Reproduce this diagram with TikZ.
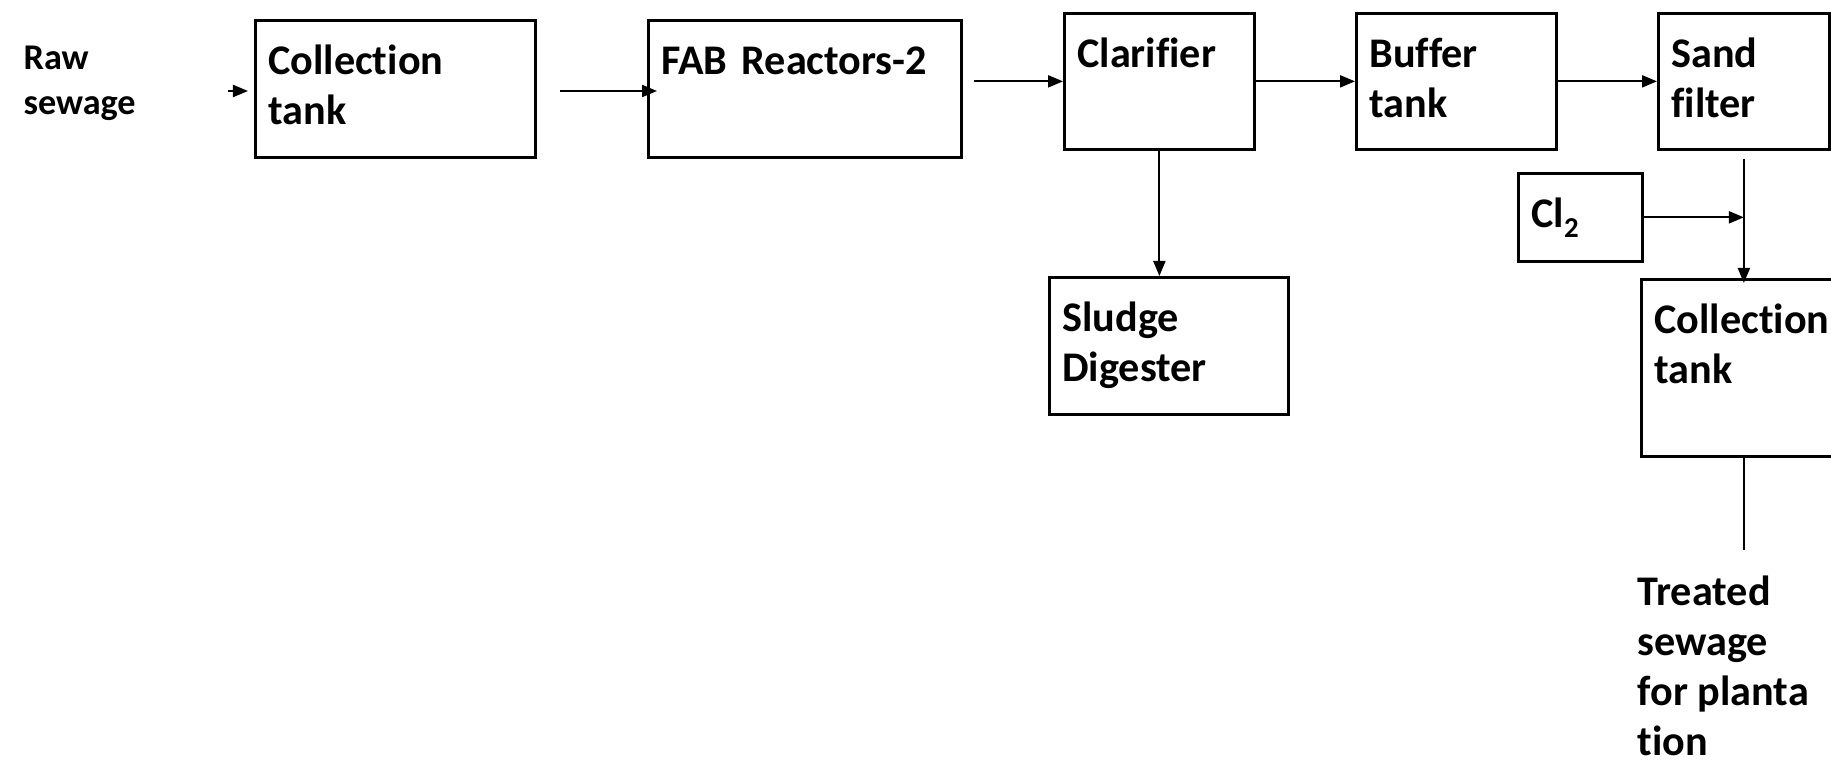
\documentclass[tikz,border=0pt]{standalone}
\usepackage{fontspec}
\setmainfont{Carlito}[Ligatures=NoCommon]
\usetikzlibrary{arrows.meta}

\begin{document}
\begin{tikzpicture}[x=0.01cm, y=-0.01cm, font=\fontsize{12pt}{14.2pt}\selectfont\bfseries,
  stage/.style={draw, line width=0.75pt, anchor=north west, align=left, inner xsep=0.13cm, inner ysep=0pt, text height=0.54cm},
  freetext/.style={anchor=base west, align=left, inner sep=0pt},
  flow/.style={-{Triangle[length=0.15cm, width=0.12cm]}, line width=0.6pt},
  pipe/.style={line width=0.6pt},
]
\useasboundingbox (0,0) rectangle (1831,767);
\node[freetext, font=\fontsize{10.3pt}{12.8pt}\selectfont\bfseries] (raw) at (23,115) {Raw\\sewage};
\node[stage, text width=2.54cm, text depth=0.83cm] (coll1) at (254,19) {Collection\\tank};
\node[stage, text width=2.87cm, text depth=0.83cm] (fab) at (647,19) {FAB Reactors-2};
\node[stage, text width=1.64cm, text depth=0.82cm] (clar) at (1063,12) {Clarifier};
\node[stage, text width=1.74cm, text depth=0.82cm] (buffer) at (1355,12) {Buffer\\tank};
\node[stage, text width=1.45cm, text depth=0.82cm] (sand) at (1657,12) {Sand\\filter};
\node[stage, text width=0.98cm, text depth=0.34cm] (cl2) at (1517,172) {Cl\raisebox{-2.8pt}{\fontsize{8.2pt}{9pt}\selectfont 2}};
\node[stage, text width=2.13cm, text depth=0.83cm] (sludge) at (1048,276) {Sludge\\Digester};
\node[stage, text width=1.94cm, text depth=1.23cm] (coll2) at (1640,278) {Collection\\tank};
\node[freetext] (treated) at (1637,755) {Treated\\sewage\\for planta\\tion};
\coordinate (rawin) at (228,91);

\draw[flow, shorten >=0.06cm] (rawin) -- (rawin -| coll1.west);
\draw[flow, shorten <=0.23cm, shorten >=-0.1cm] (coll1.east |- rawin) -- (fab.west |- rawin);
\draw[flow, shorten <=0.11cm] (fab.east |- clar.west) -- (clar.west);
\draw[flow] (clar) -- (buffer);
\draw[flow] (buffer) -- (sand);
\draw[flow] (clar.south) -- (clar.south |- sludge.north);
\draw[flow, shorten <=0.08cm, shorten >=-0.05cm] (sand.south) -- (sand.south |- coll2.north);
\draw[flow] (cl2.east) -- (cl2.east -| sand.south);
\draw[pipe, shorten >=0.25cm] (sand.south |- coll2.south) -- (sand.south |- treated.north);
\end{tikzpicture}
\end{document}
